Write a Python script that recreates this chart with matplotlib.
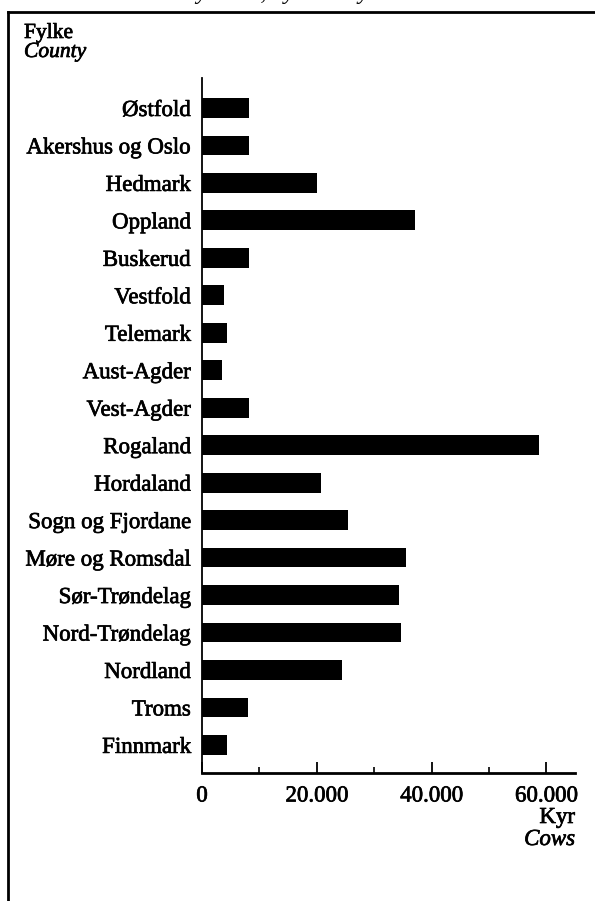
import matplotlib
matplotlib.use("Agg")
import matplotlib.pyplot as plt
import matplotlib.patheffects as pe
from matplotlib.lines import Line2D
from matplotlib.ticker import FuncFormatter, MultipleLocator

counties = ["Østfold", "Akershus og Oslo", "Hedmark", "Oppland", "Buskerud",
            "Vestfold", "Telemark", "Aust-Agder", "Vest-Agder", "Rogaland",
            "Hordaland", "Sogn og Fjordane", "Møre og Romsdal", "Sør-Trøndelag",
            "Nord-Trøndelag", "Nordland", "Troms", "Finnmark"]
cows = [8200, 8200, 20000, 37100, 8200, 3900, 4300, 3500, 8200, 58800,
        20800, 25500, 35500, 34300, 34700, 24400, 8000, 4300]
xticks = [0, 20000, 40000, 60000]

plt.rcParams['font.family'] = ['Liberation Serif', 'DejaVu Serif']
ink = [pe.withStroke(linewidth=0.5, foreground='black')]

W, H = 595, 901
fig = plt.figure(figsize=(W / 100, H / 100), dpi=100)

# axes placed in pixel terms of the scan
left, right, top, bottom = 202, 575, 78, 773
ax = fig.add_axes([left / W, 1 - bottom / H, (right - left) / W, (bottom - top) / H])

ypos = list(range(len(counties)))
ax.barh(ypos, cows, height=0.53, color='black')
ax.set_ylim(17.75, -0.8)
ax.set_xlim(0, 65000)

ax.set_yticks(ypos)
ax.set_yticklabels(counties, fontsize=16.5)
ax.tick_params(axis='y', length=0, pad=8)

ax.set_xticks(xticks)
ax.xaxis.set_minor_locator(MultipleLocator(10000))
ax.xaxis.set_major_formatter(FuncFormatter(lambda v, p: f"{int(v):,}".replace(",", ".")))
ax.tick_params(axis='x', direction='in', length=8, width=1.3, labelsize=16.5, pad=9)
ax.tick_params(axis='x', which='minor', direction='in', length=4, width=1.2)

for lab in ax.get_yticklabels() + ax.get_xticklabels():
    lab.set_path_effects(ink)

for s in ['top', 'right']:
    ax.spines[s].set_visible(False)
ax.spines['left'].set_linewidth(1.3)
ax.spines['bottom'].set_linewidth(2)

# frame of the scanned page
fig.add_artist(Line2D([8 / W, 8 / W], [0, 1 - 12 / H], color='black', lw=2))
fig.add_artist(Line2D([8 / W, 1], [1 - 12 / H, 1 - 12 / H], color='black', lw=2))

# title cut off at the top edge of the scan
fig.text(290 / W, 1 + 1 / H, "Dairy cows, by County. 1989", style='italic',
         fontsize=17, ha='center', va='baseline')

fig.text(24 / W, 1 - 38 / H, "Fylke", fontsize=15.5, va='baseline', path_effects=ink)
fig.text(24 / W, 1 - 57 / H, "County", fontsize=15.5, style='italic', va='baseline', path_effects=ink)
fig.text(575 / W, 1 - 823 / H, "Kyr", fontsize=16.5, ha='right', va='baseline', path_effects=ink)
fig.text(575 / W, 1 - 845 / H, "Cows", fontsize=16.5, style='italic', ha='right', va='baseline', path_effects=ink)

fig.savefig("out.png", dpi=100)
